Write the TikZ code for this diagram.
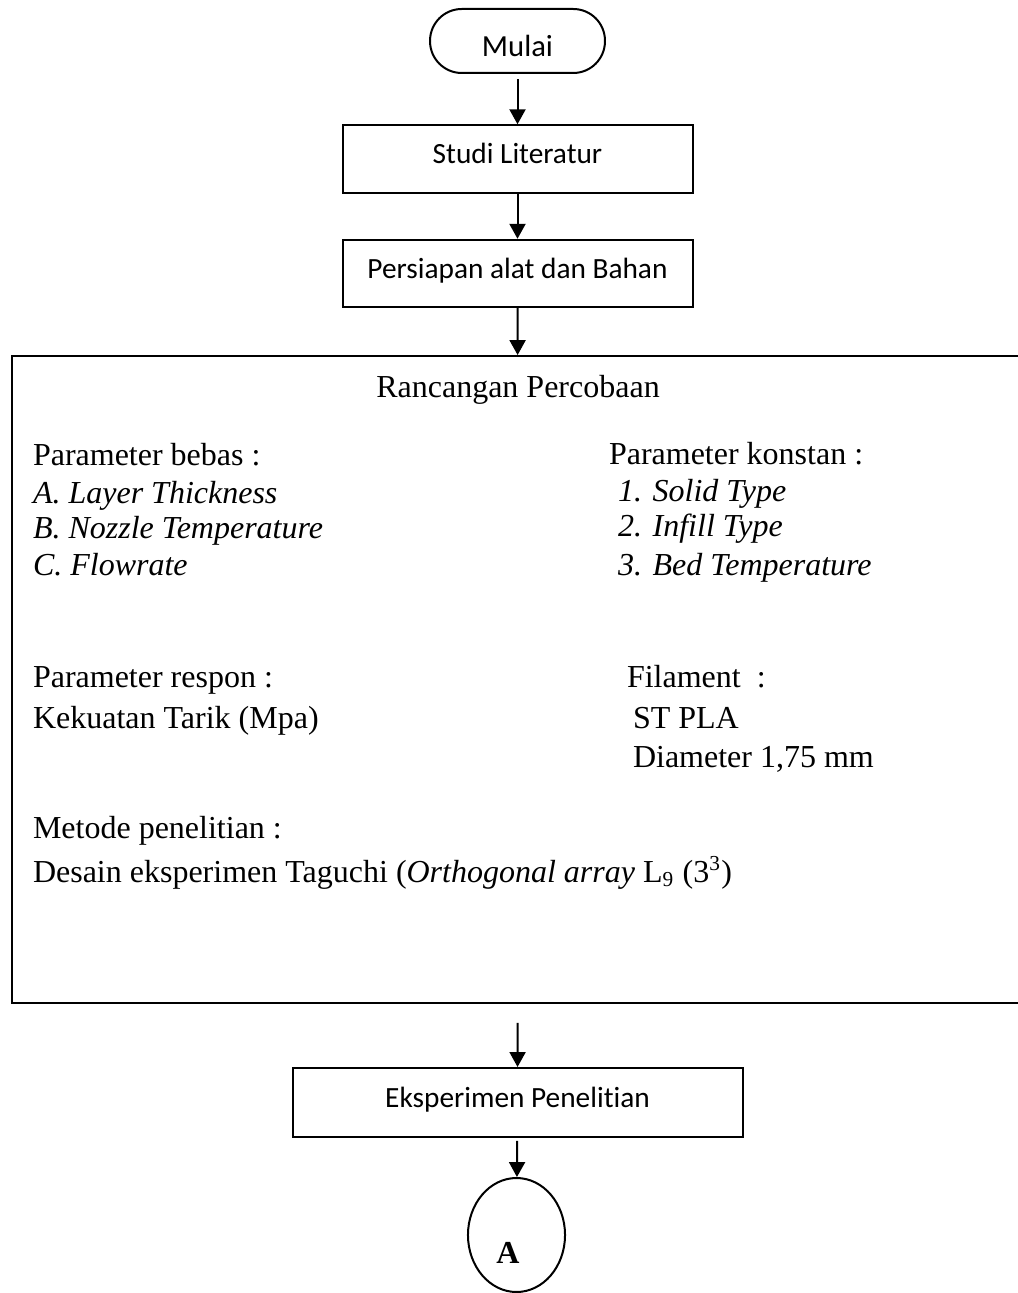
\documentclass[tikz,border=0pt]{standalone}
\usepackage{fontspec}
\setmainfont{Liberation Serif}
\newfontfamily\calibrifont[Ligatures=NoCommon]{Carlito}
\usetikzlibrary{arrows.meta,shapes.geometric}
\begin{document}
\begin{tikzpicture}[x=0.375pt,y=-0.375pt,>={Triangle[length=5.6pt,width=6pt]},line width=0.75pt,
  procbox/.style={draw,rectangle,minimum width=131.25pt,minimum height=25.3pt,text height=3.4pt,text depth=0pt,font=\calibrifont\fontsize{11}{13}\selectfont},
  txt/.style={anchor=base west,inner sep=0pt,font=\fontsize{12}{14}\selectfont}]
\useasboundingbox (0,0) rectangle (1018,1293);
%%
\node (node_mulai) at (517.5,41) [draw,rounded corners=11.9pt,minimum width=65.6pt,minimum height=24pt,text height=12pt,text depth=0pt,font=\calibrifont\fontsize{11.5}{13}\selectfont] {Mulai};
  \node (node_studi) at (517.5,159) [procbox] {Studi Literatur};
  \node (node_persiapan) at (517.5,273.5) [procbox] {Persiapan alat dan Bahan};
  \node (node_rancangan) at (518,679.5) [draw,minimum width=379.5pt,minimum height=242.6pt] {};
  \node (node_eksperimen) at (517.5,1102.5) [procbox,minimum width=168.75pt,minimum height=25.9pt] {Eksperimen Penelitian};
  \node (node_a) at (516.5,1235) [draw,ellipse,minimum width=36.4pt,minimum height=42.75pt,inner sep=0pt] {};
  \node (node_a_text) at (508,1263) [anchor=base,inner sep=0pt,font=\bfseries\fontsize{12}{14}\selectfont] {A};
%
\node (node_judul) at (518,398) [txt,anchor=base] {Rancangan Percobaan};
  \node (node_bebas) at (32,466) [txt] {Parameter bebas :};
  \node (node_bebas_a) at (32,503) [txt] {\textit{A. Layer Thickness}};
  \node (node_bebas_b) at (32,539) [txt] {\textit{B. Nozzle Temperature}};
  \node (node_bebas_c) at (32,575) [txt] {\textit{C. Flowrate}};
  \node (node_konstan) at (608,465) [txt] {Parameter konstan :};
  \node (node_konstan_1) at (617,502) [txt] {\textit{1. Solid Type}};
  \node (node_konstan_2) at (617,537) [txt] {\textit{2. Infill Type}};
  \node (node_konstan_3) at (617,575) [txt] {\textit{3. Bed Temperature}};
  \node (node_respon) at (32,687) [txt] {Parameter respon :};
  \node (node_respon_1) at (32,728) [txt] {Kekuatan Tarik (Mpa)};
  \node (node_filament) at (626,687) [txt] {Filament\ \ :};
  \node (node_filament_1) at (632,728) [txt] {ST PLA};
  \node (node_filament_2) at (632,767) [txt] {Diameter 1,75 mm};
  \node (node_metode) at (32,838) [txt] {Metode penelitian :};
  \node (node_metode_1) at (32,882) [txt] {Desain eksperimen Taguchi (\textit{Orthogonal array} L\textsubscript{9} (3\textsuperscript{3})};
%
\draw [black,->,shorten <=1.9pt] (node_mulai) -- (node_studi);
  \draw [black,->] (node_studi) -- (node_persiapan);
  \draw [black,->] (node_persiapan) -- (node_rancangan);
  \draw [black,->,shorten <=7.1pt] (node_rancangan) -- (node_eksperimen);
  \draw [black,->,shorten <=1.1pt] (node_eksperimen) -- (node_a);
%
\end{tikzpicture}
\end{document}
